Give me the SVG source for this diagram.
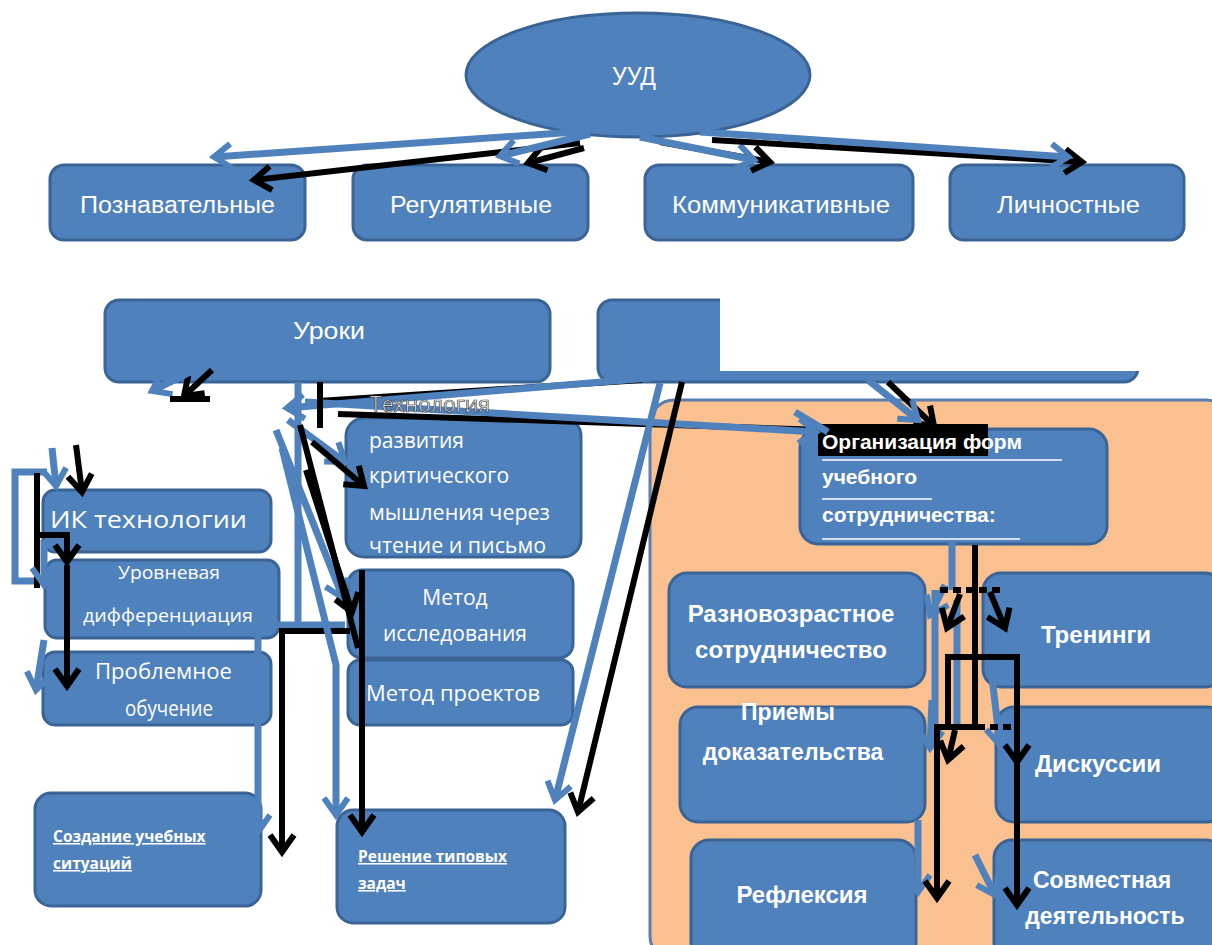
<svg xmlns="http://www.w3.org/2000/svg" width="1212" height="945" viewBox="0 0 1212 945">
<style>
.n{fill:#4F81BD;stroke:#3A6496;stroke-width:3}
.t{fill:#fff;font-family:"Liberation Sans",Arial,sans-serif;font-size:23px}
.o{fill:#fff;font-family:"Open Sans","Liberation Sans",sans-serif;font-size:21px}
.b{fill:#fff;font-family:"Liberation Sans",Arial,sans-serif;font-size:21px;font-weight:bold}
.b24{font-size:24px}
.b23{font-size:23px}
.u{fill:#fff;font-family:"Open Sans","Liberation Sans",sans-serif;font-size:15.5px;font-weight:bold;text-decoration:underline}
.bl{fill:none;stroke:#4F81BD;stroke-width:7}
.kl{fill:none;stroke:#000;stroke-width:6}
.wl{stroke:#fff;stroke-width:1.5}
</style>
<defs>
<marker id="cb" viewBox="0 0 30 30" refX="22" refY="15" markerWidth="30" markerHeight="30" markerUnits="userSpaceOnUse" orient="auto"><path d="M5,3 L22,15 L5,27" fill="none" stroke="#4F81BD" stroke-width="6"/></marker>
<marker id="ck" viewBox="0 0 30 30" refX="22" refY="15" markerWidth="30" markerHeight="30" markerUnits="userSpaceOnUse" orient="auto"><path d="M5,3 L22,15 L5,27" fill="none" stroke="#000" stroke-width="6"/></marker>
</defs>
<rect width="1212" height="945" fill="#fff"/>

<g id="uud"><ellipse class="n" cx="638" cy="75" rx="172" ry="62"/><text class="t" x="612" y="85" style="font-size:25px" textLength="44" lengthAdjust="spacingAndGlyphs">УУД</text></g>
<g id="poznav"><rect class="n" x="50" y="165" width="255" height="75" rx="14"/><text class="t" x="80" y="213" textLength="195" lengthAdjust="spacingAndGlyphs">Познавательные</text></g>
<g id="regul"><rect class="n" x="353" y="165" width="235" height="75" rx="14"/><text class="t" x="390" y="213" textLength="162" lengthAdjust="spacingAndGlyphs">Регулятивные</text></g>
<g id="kommun"><rect class="n" x="645" y="165" width="268" height="75" rx="14"/><text class="t" x="672" y="213" textLength="218" lengthAdjust="spacingAndGlyphs">Коммуникативные</text></g>
<g id="lichn"><rect class="n" x="950" y="165" width="234" height="75" rx="14"/><text class="t" x="997" y="213" textLength="143" lengthAdjust="spacingAndGlyphs">Личностные</text></g>

<g id="uroki"><rect class="n" x="105" y="300" width="445" height="82" rx="14"/><text class="t" x="293" y="339" textLength="72" lengthAdjust="spacingAndGlyphs">Уроки</text></g>
<g id="vneur"><rect class="n" x="598" y="300" width="540" height="82" rx="14"/><rect x="720" y="288" width="492" height="83" fill="#fff"/></g>

<g id="panel"><rect x="650" y="400" width="580" height="560" rx="24" fill="#FAC090" stroke="#5A7FAF" stroke-width="3"/></g>

<g id="ik"><rect class="n" x="43" y="490" width="228" height="62" rx="12"/><text class="o" x="50" y="528" style="font-size:24px" textLength="197" lengthAdjust="spacingAndGlyphs">ИК технологии</text></g>
<g id="urov"><rect class="n" x="45" y="560" width="234" height="78" rx="12"/><text class="o" x="118" y="579" style="font-size:18px" textLength="102" lengthAdjust="spacingAndGlyphs">Уровневая</text><text class="o" x="83" y="622" style="font-size:19px" textLength="170" lengthAdjust="spacingAndGlyphs">дифференциация</text></g>
<g id="probl"><rect class="n" x="43" y="652" width="228" height="73" rx="12"/><text class="o" x="95" y="679" style="font-size:22px" textLength="137" lengthAdjust="spacingAndGlyphs">Проблемное</text><text class="o" x="125" y="716" style="font-size:22px" textLength="88" lengthAdjust="spacingAndGlyphs">обучение</text></g>
<g id="sozd"><rect class="n" x="35" y="793" width="226" height="113" rx="16"/><text class="u" x="53" y="842">Создание учебных</text><text class="u" x="53" y="869">ситуаций</text></g>

<g id="tech"><rect class="n" x="346" y="418" width="235" height="139" rx="18"/><text class="o" x="369" y="448">развития</text><text class="o" x="369" y="483">критического</text><text class="o" x="369" y="520" textLength="181" lengthAdjust="spacingAndGlyphs">мышления через</text><text class="o" x="369" y="553" textLength="177" lengthAdjust="spacingAndGlyphs">чтение и письмо</text></g>
<g id="issl"><rect class="n" x="348" y="570" width="225" height="88" rx="14"/><text class="o" x="455" y="605" text-anchor="middle">Метод</text><text class="o" x="455" y="641" text-anchor="middle">исследования</text></g>
<g id="proekt"><rect class="n" x="348" y="660" width="225" height="65" rx="12"/><text class="o" x="366" y="701" textLength="174" lengthAdjust="spacingAndGlyphs">Метод проектов</text></g>
<g id="resh"><rect class="n" x="337" y="810" width="228" height="113" rx="16"/><text class="u" x="358" y="862">Решение типовых</text><text class="u" x="358" y="889">задач</text></g>

<g id="org"><rect class="n" x="800" y="429" width="307" height="115" rx="18"/><rect x="818" y="424" width="170" height="32" fill="#000"/><text class="b" x="822" y="449">Организация форм</text><line class="wl" x1="822" y1="460" x2="1062" y2="460"/><text class="b" x="822" y="484">учебного</text><line class="wl" x1="822" y1="499" x2="932" y2="499"/><text class="b" x="822" y="522">сотрудничества:</text><line class="wl" x1="822" y1="539" x2="1020" y2="539"/></g>
<g id="raznov"><rect class="n" x="669" y="573" width="256" height="114" rx="18"/><text class="b b24" x="791" y="622" text-anchor="middle">Разновозрастное</text><text class="b b24" x="791" y="658" text-anchor="middle">сотрудничество</text></g>
<g id="trening"><rect class="n" x="983" y="573" width="240" height="114" rx="18"/><text class="b b24" x="1096" y="643" text-anchor="middle">Тренинги</text></g>
<g id="priemy"><rect class="n" x="680" y="707" width="245" height="115" rx="18"/><text class="b b23" x="788" y="720" text-anchor="middle">Приемы</text><text class="b b23" x="793" y="760" text-anchor="middle">доказательства</text></g>
<g id="disk"><rect class="n" x="996" y="707" width="230" height="115" rx="18"/><text class="b b24" x="1098" y="772" text-anchor="middle">Дискуссии</text></g>
<g id="refl"><rect class="n" x="691" y="840" width="225" height="120" rx="18"/><text class="b b24" x="802" y="903" text-anchor="middle">Рефлексия</text></g>
<g id="sovm"><rect class="n" x="994" y="840" width="230" height="120" rx="18"/><text class="b b23" x="1102" y="888" text-anchor="middle">Совместная</text><text class="b b23" x="1105" y="924" text-anchor="middle">деятельность</text></g>

<g id="connectors">
<line class="kl" x1="580" y1="143" x2="254" y2="180" marker-end="url(#ck)"/>
<line class="bl" x1="590" y1="131" x2="214" y2="157" marker-end="url(#cb)"/>
<line class="kl" x1="584" y1="148" x2="528" y2="163" marker-end="url(#ck)"/>
<line class="bl" x1="590" y1="134" x2="500" y2="156" marker-end="url(#cb)"/>
<line class="kl" x1="660" y1="142" x2="770" y2="162" marker-end="url(#ck)"/>
<line class="bl" x1="640" y1="137" x2="754" y2="160" marker-end="url(#cb)"/>
<line class="kl" x1="712" y1="140" x2="1082" y2="162" marker-end="url(#ck)"/>
<line class="bl" x1="700" y1="132" x2="1068" y2="157" marker-end="url(#cb)"/>

<line class="kl" x1="212" y1="370" x2="184" y2="396" marker-end="url(#ck)"/>
<line class="bl" x1="190" y1="372" x2="152" y2="391" marker-end="url(#cb)"/>
<line class="kl" x1="170" y1="399" x2="210" y2="399"/>

<path class="kl" d="M642,380 L318,401"/>
<path class="bl" d="M650,378 L287,408" marker-end="url(#cb)"/>
<path class="kl" d="M338,414 L824,430"/>
<path class="bl" d="M305,402 L816,432" marker-end="url(#cb)"/>
<path class="bl" d="M298,382 V625"/>
<path class="kl" d="M320,382 V428"/>
<path class="bl" d="M345,625 H258 V832" marker-end="url(#cb)"/>
<path class="kl" d="M350,631 H282 V852" marker-end="url(#ck)"/>
<path class="bl" d="M276,430 L343,598" marker-end="url(#cb)"/>
<path class="bl" d="M282,448 L336,665 V815" marker-end="url(#cb)"/>
<path class="bl" d="M288,420 L345,462" marker-end="url(#cb)"/>
<path class="kl" d="M300,425 L358,648"/>
<path class="kl" d="M312,442 L364,486" marker-end="url(#ck)"/>
<path class="kl" d="M306,470 L352,612" marker-end="url(#ck)"/>
<path class="kl" d="M362,570 V832" marker-end="url(#ck)"/>
<path class="kl" d="M682,382 L578,812" marker-end="url(#ck)"/>
<path class="bl" d="M660,383 L555,800" marker-end="url(#cb)"/>
<path class="kl" d="M888,382 L934,426" marker-end="url(#ck)"/>
<path class="bl" d="M868,380 L918,420" marker-end="url(#cb)"/>
<path class="bl" d="M795,412 L828,432"/>

<path class="bl" d="M47,472 H15 V581 H45"/>
<path class="kl" d="M37,473 V588"/>
<path class="kl" d="M38,535 H67 V562" marker-end="url(#ck)"/>
<path class="kl" d="M76,445 L82,492" marker-end="url(#ck)"/>
<path class="bl" d="M52,448 L56,486" marker-end="url(#cb)"/>
<path class="bl" d="M44,540 V585" marker-end="url(#cb)"/>
<path class="kl" d="M67,565 V686" marker-end="url(#ck)"/>
<path class="bl" d="M44,640 L36,690" marker-end="url(#cb)"/>

<path class="bl" d="M952,540 V590"/>
<path class="bl" d="M935,590 V735"/>
<path class="bl" d="M957,600 V727"/>
<path class="bl" d="M945,585 L930,615" marker-end="url(#cb)"/>
<path class="bl" d="M990,660 L1000,745" marker-end="url(#cb)"/>
<path class="bl" d="M932,700 L930,748" marker-end="url(#cb)"/>
<path class="bl" d="M918,820 V892" marker-end="url(#cb)"/>
<path class="bl" d="M975,855 L995,895" marker-end="url(#cb)"/>
<path class="kl" d="M975,545 V727"/>
<path class="kl" d="M960,594 L947,628" marker-end="url(#ck)"/>
<path class="kl" d="M990,592 L1005,628" marker-end="url(#ck)"/>
<path class="kl" d="M940,590 H1005" stroke-dasharray="8 5" stroke-width="4"/>
<path class="kl" d="M948,727 V657 H1017 V905" marker-end="url(#ck)"/>
<path class="kl" d="M1017,735 V762" marker-end="url(#ck)"/>
<path class="kl" d="M977,727 H937 V898" marker-end="url(#ck)"/>
<path class="kl" d="M955,730 L948,760" marker-end="url(#ck)"/>
<path class="kl" d="M977,727 H1015" stroke-dasharray="8 5" stroke-width="4"/>
</g>
<text x="370" y="412" fill="#fff" stroke="#333" stroke-width="0.7" font-family="Open Sans, Liberation Sans, sans-serif" font-size="21" textLength="120" lengthAdjust="spacingAndGlyphs">Технология</text>
</svg>
